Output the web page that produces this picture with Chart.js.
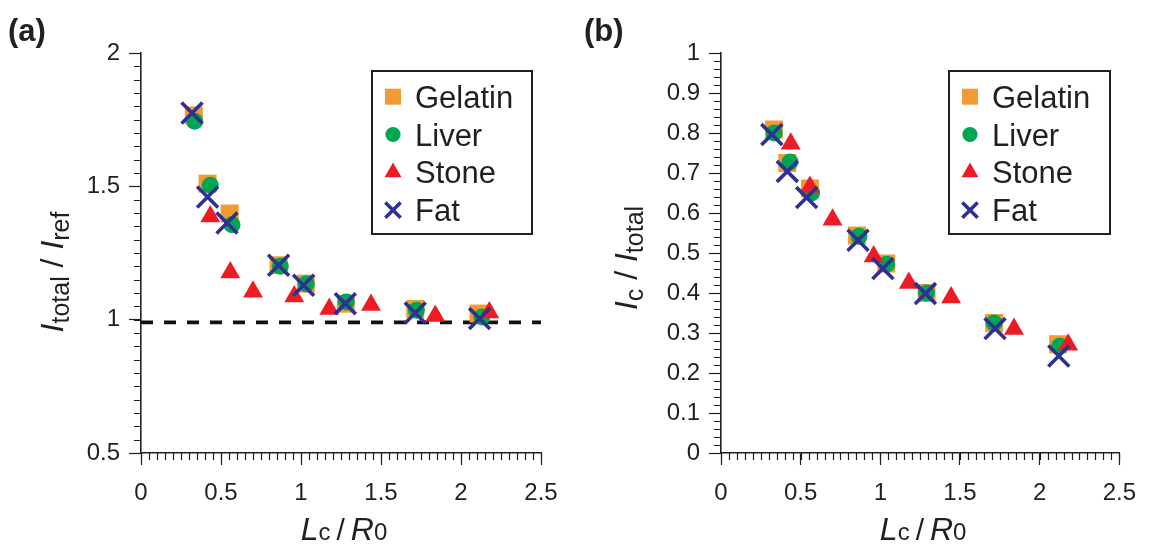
<!DOCTYPE html>
<html>
<head>
<meta charset="utf-8">
<script src="https://cdn.jsdelivr.net/npm/chart.js@4.4.0/dist/chart.umd.min.js"></script>
<style>
  body { margin: 0; background: #fff; }
  #wrap { position: relative; width: 1150px; height: 549px; background: #fff; }
  canvas { position: absolute; top: 0; }
  #chartA { left: 0; }
  #chartB { left: 575px; }
</style>
</head>
<body>
<div id="wrap">
  <canvas id="chartA" width="575" height="549"></canvas>
  <canvas id="chartB" width="575" height="549"></canvas>
</div>
<script>
// series names, in legend order
var seriesNames = ['Gelatin', 'Liver', 'Stone', 'Fat'];

// (a) I_total / I_ref against Lc / R0
var gelatinAx = [0.33, 0.416, 0.554, 0.86, 1.03, 1.28, 1.714, 2.11];
var gelatinAy = [1.766, 1.51, 1.398, 1.204, 1.135, 1.06, 1.04, 1.023];
var liverAx = [0.335, 0.433, 0.569, 0.871, 1.033, 1.283, 1.721, 2.131];
var liverAy = [1.744, 1.504, 1.356, 1.2, 1.135, 1.066, 1.035, 1.01];
var stoneAx = [0.433, 0.558, 0.70, 0.958, 1.177, 1.4375, 1.839, 2.177];
var stoneAy = [1.387, 1.177, 1.105, 1.087, 1.04, 1.055, 1.014, 1.027];
var fatAx = [0.319, 0.416, 0.5375, 0.86, 1.016, 1.277, 1.714, 2.116];
var fatAy = [1.775, 1.46, 1.3625, 1.204, 1.129, 1.06, 1.025, 1.004];
// reference level (dashed)
var refLineX = [0, 2.5];
var refLineY = [0.99, 0.99];

// (b) I_c / I_total against Lc / R0
var gelatinBx = [0.333, 0.416, 0.558, 0.854, 1.0375, 1.29, 1.714, 2.116];
var gelatinBy = [0.8085, 0.725, 0.661, 0.544, 0.4735, 0.40, 0.325, 0.272];
var liverBx = [0.333, 0.433, 0.569, 0.866, 1.04, 1.29, 1.714, 2.125];
var liverBy = [0.80, 0.7275, 0.65, 0.542, 0.472, 0.40, 0.325, 0.267];
var stoneBx = [0.4375, 0.558, 0.70, 0.958, 1.179, 1.444, 1.839, 2.179];
var stoneBy = [0.773, 0.665, 0.583, 0.4915, 0.425, 0.389, 0.31, 0.2705];
var fatBx = [0.319, 0.416, 0.5375, 0.86, 1.016, 1.283, 1.72, 2.12];
var fatBy = [0.796, 0.704, 0.6385, 0.532, 0.461, 0.3985, 0.311, 0.2425];

// axis ranges / tick steps
var xRange = [0, 2.5], xMajor = 0.5, xMinor = 0.05;
var yRangeA = [0.5, 2], yMajorA = 0.5, yMinorA = 0.05;
var yRangeB = [0, 1], yMajorB = 0.1, yMinorB = 0.02;

var ink = '#231f20';
var fam = "'Liberation Sans', Arial, Helvetica, sans-serif";
var colors = { Gelatin: '#f39a32', Liver: '#00a651', Stone: '#ed1c24', Fat: '#2e3192' };

function pts(xs, ys) {
  return xs.map(function (x, i) { return { x: x, y: ys[i] }; });
}

// marker look per series (plot size / legend size)
var markers = {
  Gelatin: { pointStyle: 'rect', radius: 12.7, legendRadius: 11.3, borderWidth: 0 },
  Liver: { pointStyle: 'circle', radius: 8.5, legendRadius: 7.6, borderWidth: 0 },
  Stone: { pointStyle: 'triangle', radius: 11.5, legendRadius: 9.8, borderWidth: 0 },
  Fat: { pointStyle: 'crossRot', radius: 14.8, legendRadius: 10.8, borderWidth: 3.6 }
};
var drawOrder = { Gelatin: 4, Liver: 3, Stone: 2, Fat: 1 };

function seriesSet(name, xs, ys) {
  var m = markers[name];
  return {
    label: name,
    data: pts(xs, ys),
    order: drawOrder[name],
    pointStyle: m.pointStyle,
    pointRadius: m.radius,
    pointHoverRadius: m.radius,
    pointBorderWidth: m.borderWidth,
    pointBackgroundColor: colors[name],
    pointBorderColor: colors[name],
    backgroundColor: colors[name],
    borderColor: colors[name],
    showLine: false
  };
}

// minor tick marks, outward, along both axes
var minorTicks = {
  id: 'minorTicks',
  afterDraw: function (chart, args, opts) {
    var ctx = chart.ctx, xs = chart.scales.x, ys = chart.scales.y;
    ctx.save();
    ctx.strokeStyle = ink;
    ctx.lineWidth = 1.2;
    ctx.beginPath();
    var i, v, p;
    for (i = 0; ; i++) {
      v = xs.min + i * opts.xStep;
      if (v > xs.max + 1e-9) break;
      p = Math.round(xs.getPixelForValue(v)) + 0.5;
      ctx.moveTo(p, xs.top);
      ctx.lineTo(p, xs.top + opts.len);
    }
    for (i = 0; ; i++) {
      v = ys.min + i * opts.yStep;
      if (v > ys.max + 1e-9) break;
      p = Math.round(ys.getPixelForValue(v)) + 0.5;
      ctx.moveTo(ys.right, p);
      ctx.lineTo(ys.right - opts.len, p);
    }
    ctx.stroke();
    ctx.restore();
  }
};

// text with italic letters and subscripts
function drawRich(ctx, parts, cx, cy, angle) {
  ctx.save();
  ctx.translate(cx, cy);
  ctx.rotate(angle);
  ctx.textAlign = 'left';
  ctx.textBaseline = 'alphabetic';
  ctx.fillStyle = ink;
  var total = 0;
  parts.forEach(function (p) {
    ctx.font = p.font;
    p.w = ctx.measureText(p.text).width;
    total += p.w + (p.gap || 0);
  });
  var x = -total / 2;
  parts.forEach(function (p) {
    ctx.font = p.font;
    ctx.fillText(p.text, x, p.dy || 0);
    x += p.w + (p.gap || 0);
  });
  ctx.restore();
}

var big = 'italic 32px ' + fam, sub = '24px ' + fam, slash = '30px ' + fam;
var xTitleParts = [
  { text: 'L', font: big },
  { text: 'c', font: sub, gap: 6 },
  { text: '/', font: slash, gap: 6 },
  { text: 'R', font: big },
  { text: '0', font: sub }
];

var titles = {
  id: 'titles',
  afterDraw: function (chart, args, opts) {
    var ctx = chart.ctx, area = chart.chartArea;
    drawRich(ctx, xTitleParts, (area.left + area.right) / 2 + 3, 540, 0);
    drawRich(ctx, opts.yParts, opts.yX, opts.yY, -Math.PI / 2);
    ctx.save();
    ctx.fillStyle = ink;
    ctx.font = 'bold 31px ' + fam;
    ctx.textBaseline = 'alphabetic';
    ctx.fillText(opts.panel, opts.panelX, 41);
    ctx.restore();
  }
};

// framed legend inside the plot
var boxLegend = {
  id: 'boxLegend',
  afterDraw: function (chart, args, opts) {
    var ctx = chart.ctx;
    ctx.save();
    ctx.fillStyle = '#fff';
    ctx.fillRect(opts.left, opts.top, opts.width, opts.height);
    ctx.lineWidth = 2;
    ctx.strokeStyle = ink;
    ctx.strokeRect(opts.left, opts.top, opts.width, opts.height);
    seriesNames.forEach(function (name, i) {
      var m = markers[name];
      var cy = opts.top + 25.7 + i * 37.8;
      var cx = opts.left + 21;
      ctx.fillStyle = colors[name];
      ctx.strokeStyle = colors[name];
      ctx.lineWidth = m.borderWidth || 3;
      Chart.helpers.drawPoint(ctx, {
        pointStyle: m.pointStyle, radius: m.legendRadius, rotation: 0,
        borderWidth: m.borderWidth
      }, cx, cy);
      ctx.fillStyle = ink;
      ctx.font = '31px ' + fam;
      ctx.textBaseline = 'alphabetic';
      ctx.fillText(name, opts.left + 43, cy + 11);
    });
    ctx.restore();
  }
};

function tickText(v) {
  return String(Math.round(v * 100) / 100);
}

function axisOpts(range, step, side, fitSize) {
  return {
    type: 'linear',
    min: range[0],
    max: range[1],
    ticks: {
      stepSize: step,
      color: ink,
      font: { family: fam, size: 24 },
      padding: side === 'x' ? 14 : 9,
      callback: tickText
    },
    grid: {
      drawOnChartArea: false,
      tickLength: 12,
      tickColor: ink,
      tickWidth: 1.2
    },
    border: { color: ink, width: 1.6 },
    afterFit: function (scale) {
      if (side === 'x') scale.height = fitSize; else scale.width = fitSize;
    }
  };
}

function makeChart(id, datasets, yRange, yMajor, yMinor, yAxisW, padRight, extra) {
  return new Chart(document.getElementById(id), {
    type: 'scatter',
    data: { datasets: datasets },
    options: {
      responsive: false,
      animation: false,
      events: [],
      devicePixelRatio: 1,
      layout: { padding: { left: 0, top: 53, right: padRight, bottom: 0 } },
      scales: {
        x: axisOpts(xRange, xMajor, 'x', 96),
        y: axisOpts(yRange, yMajor, 'y', yAxisW)
      },
      plugins: {
        legend: { display: false },
        tooltip: { enabled: false },
        minorTicks: { xStep: xMinor, yStep: yMinor, len: 7 },
        titles: extra.titles,
        boxLegend: extra.legend
      }
    },
    plugins: [minorTicks, titles, boxLegend]
  });
}

var sub2 = '25px ' + fam, mid = '32px ' + fam;

makeChart('chartA', [
  seriesSet('Gelatin', gelatinAx, gelatinAy),
  seriesSet('Liver', liverAx, liverAy),
  seriesSet('Stone', stoneAx, stoneAy),
  seriesSet('Fat', fatAx, fatAy),
  {
    type: 'line',
    label: 'ref',
    data: pts(refLineX, refLineY),
    order: 10,
    borderColor: '#111',
    borderWidth: 3.6,
    borderDash: [12, 11],
    pointRadius: 0,
    showLine: true
  }
], yRangeA, yMajorA, yMinorA, 141, 34, {
  titles: {
    panel: '(a)', panelX: 8, yX: 63, yY: 272,
    yParts: [
      { text: 'I', font: big },
      { text: 'total', font: sub2, dy: 6 },
      { text: ' / ', font: mid },
      { text: 'I', font: big },
      { text: 'ref', font: sub2, dy: 6 }
    ]
  },
  legend: { left: 372, top: 71, width: 160, height: 163 }
});

makeChart('chartB', [
  seriesSet('Gelatin', gelatinBx, gelatinBy),
  seriesSet('Liver', liverBx, liverBy),
  seriesSet('Stone', stoneBx, stoneBy),
  seriesSet('Fat', fatBx, fatBy)
], yRangeB, yMajorB, yMinorB, 146, 29, {
  titles: {
    panel: '(b)', panelX: 9, yX: 62, yY: 258,
    yParts: [
      { text: 'I', font: big },
      { text: 'c', font: sub2, dy: 6 },
      { text: ' / ', font: mid },
      { text: 'I', font: big },
      { text: 'total', font: sub2, dy: 6 }
    ]
  },
  legend: { left: 374, top: 71, width: 161, height: 163 }
});
</script>
</body>
</html>
